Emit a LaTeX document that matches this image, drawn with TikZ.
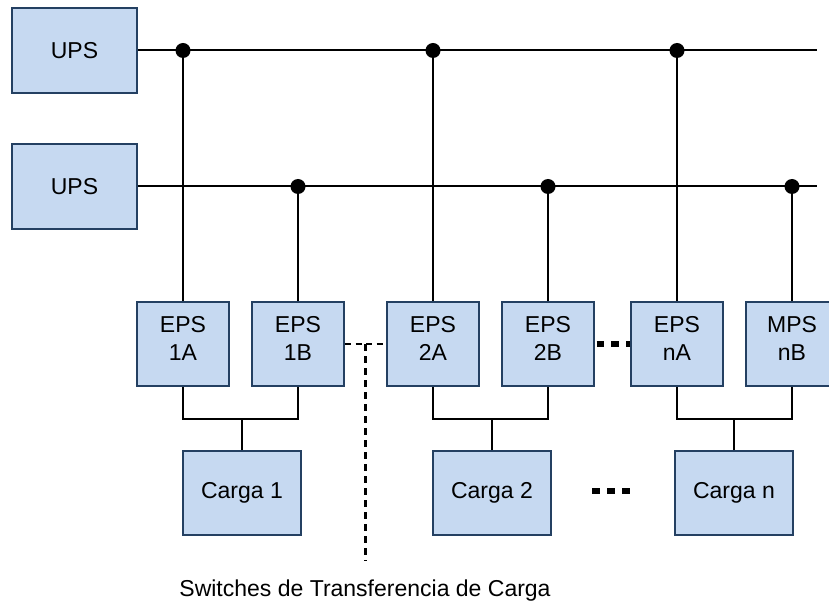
\documentclass[tikz,border=0pt]{standalone}
\usepackage{fontspec}
\setmainfont{Liberation Sans}
\definecolor{boxfill}{HTML}{C6D9F1}
\definecolor{boxedge}{RGB}{36,64,98}
\begin{document}
\begin{tikzpicture}[x=1pt,y=-1pt,
  box/.style={draw=boxedge, fill=boxfill, line width=2pt, inner sep=0pt,
    font=\fontsize{23}{28.5}\selectfont, align=center},
  upsbox/.style={box, minimum width=125pt, minimum height=85pt},
  epsbox/.style={box, minimum width=92pt, minimum height=84pt, text depth=11pt},
  loadbox/.style={box, minimum width=118pt, minimum height=84pt},
  wire/.style={line width=2pt, black},
  dot/.style={fill=black},
  sw/.style={line width=2pt, dash pattern=on 6pt off 4.5pt},
  swv/.style={line width=3pt, dash pattern=on 7pt off 5pt},
  ellip/.style={line width=6pt},
  lbl/.style={font=\fontsize{23}{28}\selectfont}]
\useasboundingbox (0,0) rectangle (829,601);

% UPS
\node[upsbox] (ups1) at (74.5,50.5) {UPS};
\node[upsbox] (ups2) at (74.5,186.5) {UPS};

% EPS
\node[epsbox] (e1a) at (183,344) {EPS\\1A};
\node[epsbox] (e1b) at (298,344) {EPS\\1B};
\node[epsbox] (e2a) at (433,344) {EPS\\2A};
\node[epsbox] (e2b) at (548,344) {EPS\\2B};
\node[epsbox] (ena) at (677,344) {EPS\\nA};
\node[epsbox] (enb) at (792,344) {MPS\\nB};

% Loads
\node[loadbox] (c1) at (242,493) {Carga 1};
\node[loadbox] (c2) at (492,493) {Carga 2};
\node[loadbox] (cn) at (734,493) {Carga n};

% Buses
\coordinate (b1end) at (817,50.5);
\coordinate (b2end) at (817,186.5);
\draw[wire] (ups1.east) -- (b1end);
\draw[wire] (ups2.east) -- (b2end);

% junctions
\foreach \n in {e1a,e2a,ena}{
  \coordinate (j\n) at (\n.north |- ups1.east);
  \draw[wire] (j\n) -- (\n.north);
  \fill[dot] (j\n) circle (7.5);
}
\foreach \n in {e1b,e2b,enb}{
  \coordinate (j\n) at (\n.north |- ups2.east);
  \draw[wire] (j\n) -- (\n.north);
  \fill[dot] (j\n) circle (7.5);
}

% brackets to loads
\draw[wire] (e1a.south) -- ++(0,32) coordinate (k1) -| (e1b.south);
\draw[wire] (c1.north) -- (c1.north |- k1);
\draw[wire] (e2a.south) -- ++(0,32) coordinate (k2) -| (e2b.south);
\draw[wire] (c2.north) -- (c2.north |- k2);
\draw[wire] (ena.south) -- ++(0,32) coordinate (k3) -| (enb.south);
\draw[wire] (cn.north) -- (cn.north |- k3);

% transfer switch indication
\draw[sw] (e1b.east) -- (e2a.west);
\coordinate (swtop) at (365,344);
\coordinate (swbot) at (365,561);
\draw[swv] (swtop) -- (swbot);
\node[lbl, anchor=base] (swlbl) at (365,596) {Switches de Transferencia de Carga};

% ellipses
\draw[ellip, dash pattern=on 7.5pt off 7.25pt] ([xshift=1.5pt]e2b.east) -- (ena.west);
\coordinate (d1) at (592,490.5);
\coordinate (d2) at (630.5,490.5);
\draw[ellip, dash pattern=on 7.7pt off 7.3pt] (d1) -- (d2);
\end{tikzpicture}
\end{document}
